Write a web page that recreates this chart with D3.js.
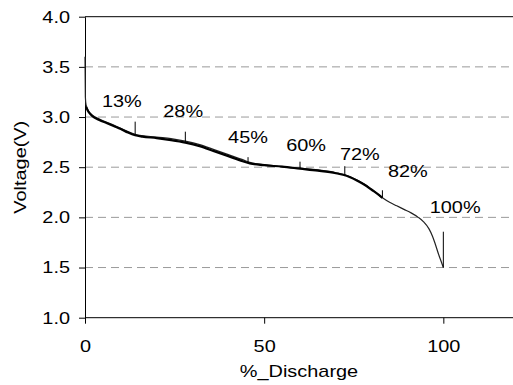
<!DOCTYPE html>
<html>
<head>
<meta charset="utf-8">
<script src="https://cdn.jsdelivr.net/npm/d3@7"></script>
<style>
  body { margin: 0; background: #fff; }
  text { font-family: "Liberation Sans", Arial, sans-serif; fill: #000; }
</style>
</head>
<body>
<div id="chart"></div>
<script>
const width = 513,
  height = 385,
  margin = { top: 16.7, bottom: 67.3, left: 85, right: -2 };

// discharge curve, thick trace (0 - 83 %)
const thickX = [0.3, 1, 2, 4, 6, 8, 10, 12, 14, 16, 20, 24, 28, 32, 36, 40, 44, 46, 50, 55, 60, 65, 70, 72, 74, 76, 78, 80, 82, 83];
const thickV = [3.10, 3.05, 3.01, 2.97, 2.94, 2.91, 2.88, 2.845, 2.818, 2.805, 2.79, 2.77, 2.745, 2.71, 2.66, 2.61, 2.56, 2.538, 2.52, 2.505, 2.485, 2.465, 2.44, 2.425, 2.40, 2.365, 2.325, 2.275, 2.225, 2.195];

// thin trace, full range incl. start spike
const thinX = [0, 0.1, 0.3, 1, 2, 4, 8, 12, 14, 20, 24, 28, 32, 36, 40, 44, 46, 50, 60, 70, 74, 78, 80, 83, 85, 87, 89, 91, 93, 94.5, 96, 97, 97.7, 98.6, 99.3, 100];
const thinV = [3.6, 3.2, 3.12, 3.06, 3.02, 2.98, 2.92, 2.855, 2.828, 2.80, 2.785, 2.76, 2.725, 2.675, 2.625, 2.575, 2.548, 2.525, 2.49, 2.445, 2.405, 2.33, 2.28, 2.195, 2.15, 2.115, 2.08, 2.045, 2.0, 1.955, 1.885, 1.81, 1.74, 1.64, 1.57, 1.50];

// marker ticks and labels
const markerX = [14, 28, 45.5, 60, 72.5, 83, 100];
const markerTop = [2.954, 2.854, 2.60, 2.555, 2.51, 2.27, 1.857];
const markerBottom = [2.818, 2.745, 2.54, 2.485, 2.42, 2.195, 1.50];
const markerLabel = ["13%", "28%", "45%", "60%", "72%", "82%", "100%"];
const labelX = [10.3, 27.4, 45.5, 61.7, 76.7, 90.1, 103.3];
const labelV = [3.103, 3.003, 2.738, 2.664, 2.572, 2.40, 2.04];

const xTicks = [0, 50, 100];
const yTicks = [1.0, 1.5, 2.0, 2.5, 3.0, 3.5, 4.0];
const gridV = [1.5, 2.0, 2.5, 3.0, 3.5];

const svg = d3.select("#chart")
  .append("svg")
  .attr("width", width)
  .attr("height", height);

const x = d3.scaleLinear().domain([0, 120]).range([margin.left, width - margin.right]);
const y = d3.scaleLinear().domain([1, 4]).range([height - margin.bottom, margin.top]);

// dashed grid
svg.selectAll(".grid")
  .data(gridV)
  .join("line")
  .attr("class", "grid")
  .attr("x1", x(0)).attr("x2", width)
  .attr("y1", d => y(d)).attr("y2", d => y(d))
  .attr("stroke", "#9a9a9a")
  .attr("stroke-width", 1)
  .attr("stroke-dasharray", "8,5");

// top frame line
svg.append("line")
  .attr("x1", x(0)).attr("x2", width)
  .attr("y1", y(4)).attr("y2", y(4))
  .attr("stroke", "#000");

// axes
const xAxis = svg.append("g")
  .attr("transform", `translate(0,${y(1)})`)
  .call(d3.axisBottom(x).tickValues(xTicks).tickFormat(d3.format("d")).tickSize(6).tickPadding(16).tickSizeOuter(0));

const yAxis = svg.append("g")
  .attr("transform", `translate(${x(0)},0)`)
  .call(d3.axisLeft(y).tickValues(yTicks).tickFormat(d3.format(".1f")).tickSize(6).tickPadding(9).tickSizeOuter(0));

[xAxis, yAxis].forEach(g => {
  g.select(".domain").attr("stroke", "#000");
  g.selectAll(".tick line").attr("stroke", "#000");
  g.selectAll("text").attr("font-size", 17).attr("font-family", null).attr("fill", "#000");
});
xAxis.select(".domain").attr("d", `M${x(0)},0H${width}`);

// curves
const line = d3.line().x(d => x(d[0])).y(d => y(d[1])).curve(d3.curveMonotoneX);

svg.append("path")
  .datum(d3.zip(thinX, thinV))
  .attr("d", line)
  .attr("fill", "none")
  .attr("stroke", "#222")
  .attr("stroke-width", 1.2);

svg.append("path")
  .datum(d3.zip(thickX, thickV))
  .attr("d", line)
  .attr("fill", "none")
  .attr("stroke", "#000")
  .attr("stroke-width", 2.2)
  .attr("stroke-linejoin", "round");

// markers
svg.selectAll(".marker")
  .data(markerX)
  .join("line")
  .attr("class", "marker")
  .attr("x1", d => x(d)).attr("x2", d => x(d))
  .attr("y1", (d, i) => y(markerTop[i]))
  .attr("y2", (d, i) => y(markerBottom[i]))
  .attr("stroke", "#000")
  .attr("stroke-width", 1);

svg.selectAll(".mlabel")
  .data(markerLabel)
  .join("text")
  .attr("class", "mlabel")
  .attr("x", (d, i) => x(labelX[i]))
  .attr("y", (d, i) => y(labelV[i]))
  .attr("text-anchor", "middle")
  .attr("font-size", 17)
  .text(d => d);

// axis titles
svg.append("text")
  .attr("x", (x(0) + width) / 2)
  .attr("y", 377)
  .attr("text-anchor", "middle")
  .attr("font-size", 17)
  .text("%_Discharge");

svg.append("text")
  .attr("transform", `translate(26,${(y(1) + y(4)) / 2}) rotate(-90)`)
  .attr("text-anchor", "middle")
  .attr("font-size", 17)
  .text("Voltage(V)");

// the original font runs wider than Arial
svg.selectAll("text").each(function() {
  const w = this.getComputedTextLength();
  this.setAttribute("textLength", w * 1.17);
  this.setAttribute("lengthAdjust", "spacingAndGlyphs");
});
</script>
</body>
</html>
